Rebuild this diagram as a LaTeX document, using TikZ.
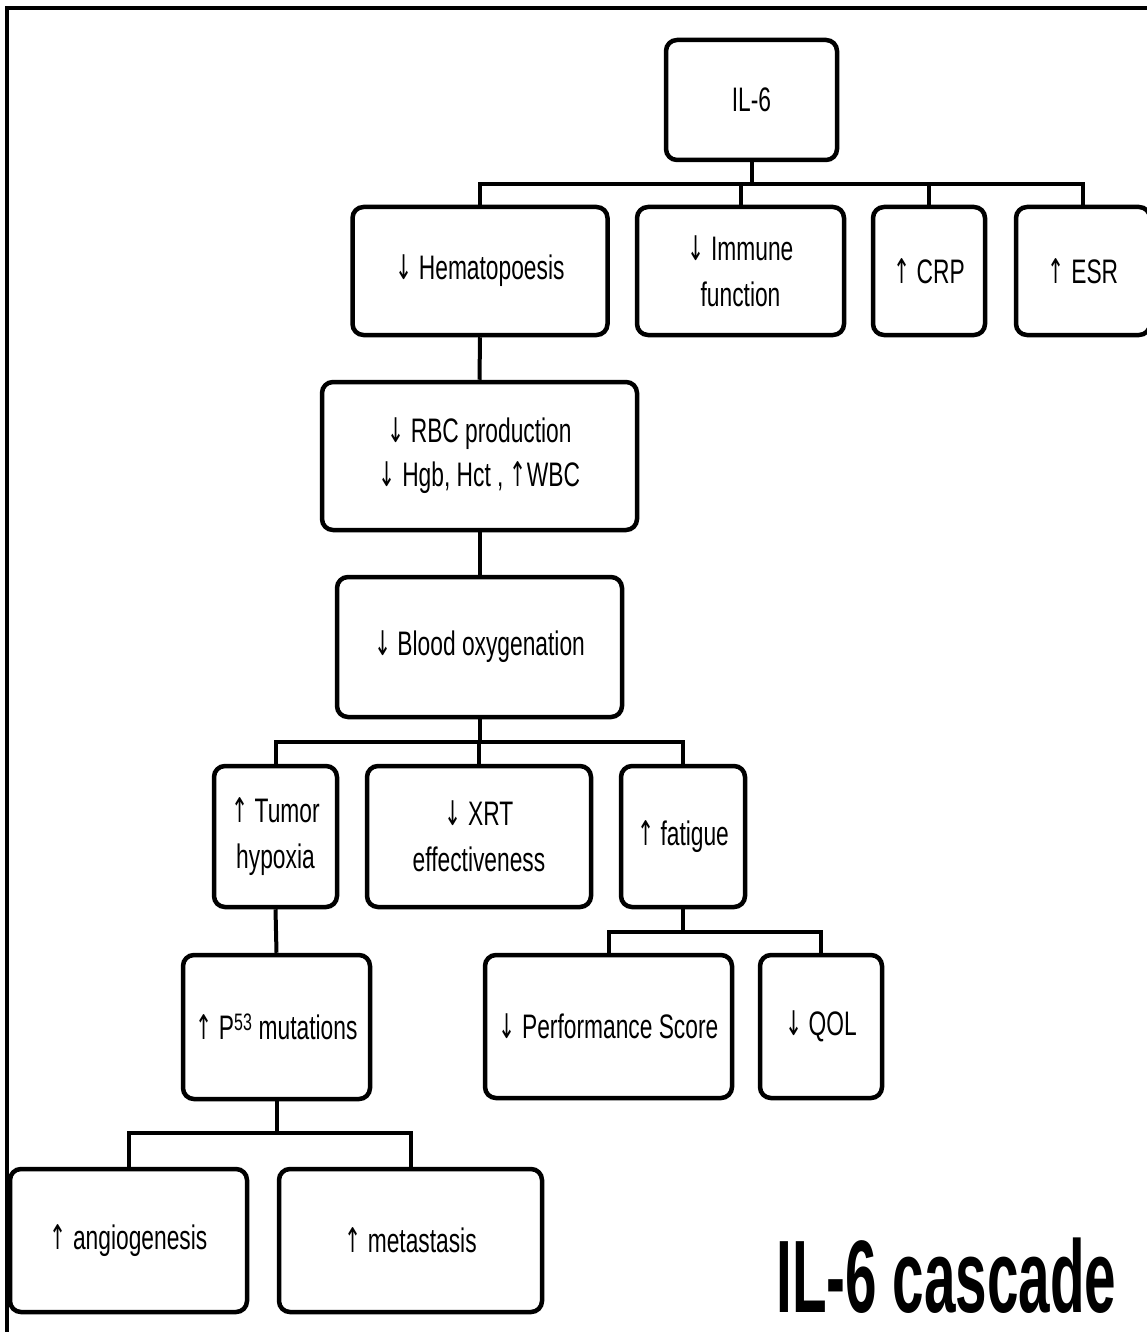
\documentclass[tikz,border=0pt]{standalone}
\usepackage{fontspec}
\setmainfont{Liberation Sans}[FakeStretch=0.67]
\newfontfamily\titlefont{Liberation Sans}[FakeStretch=0.55]
\newfontfamily\arrfont{DejaVu Sans}[FakeStretch=0.6]
\newcommand{\myup}{{\arrfont ↑}}
\newcommand{\mydn}{{\arrfont ↓}}
\begin{document}
\begin{tikzpicture}[x=1pt,y=-1pt,
  box/.style={draw, line width=4.5pt, rounded corners=11pt, align=center, inner sep=0pt,
    font=\fontsize{34}{46}\selectfont},
  conn/.style={line width=4pt}]
\useasboundingbox (0,0) rectangle (1146,1332);
\draw[line width=4pt] (7,1340) -- (7,8) -- (1150,8);
% row 0
\node[box, minimum width=171pt, minimum height=120pt] (il6) at (751.5,100) {IL-6};
% row 1
\node[box, minimum width=255pt, minimum height=128pt] (hema) at (480,271) {\mydn\ Hematopoesis};
\node[box, minimum width=207pt, minimum height=128pt] (immune) at (740.5,271) {\mydn\ Immune\\function};
\node[box, minimum width=112pt, minimum height=128pt] (crp) at (929,271) {\myup\ CRP};
\node[box, minimum width=134pt, minimum height=128pt] (esr) at (1083,271) {\myup\ ESR};
% row 2
\node[box, minimum width=315pt, minimum height=148pt, font=\fontsize{34}{44}\selectfont] (rbc) at (479.5,456) {\mydn\ RBC production\\\mydn\ Hgb, Hct , \myup WBC};
% row 3
\node[box, minimum width=285pt, minimum height=140pt] (blood) at (479.5,647) {\mydn\ Blood oxygenation};
% row 4
\node[box, minimum width=123pt, minimum height=141pt] (tumor) at (275.5,836.5) {\myup\ Tumor\\hypoxia};
\node[box, minimum width=224pt, minimum height=141pt] (xrt) at (479,836.5) {\mydn\ XRT\\effectiveness};
\node[box, minimum width=124pt, minimum height=141pt] (fatigue) at (683,836.5) {\myup\ fatigue};
% row 5
\node[box, minimum width=187pt, minimum height=144pt] (p53) at (276.5,1027) {\myup\ P\textsuperscript{53} mutations};
\node[box, minimum width=247pt, minimum height=143pt] (perf) at (608.5,1026.5) {\mydn\ Performance Score};
\node[box, minimum width=122pt, minimum height=143pt] (qol) at (821,1026.5) {\mydn\ QOL};
% row 6
\node[box, minimum width=237pt, minimum height=143pt] (angio) at (128.5,1240.5) {\myup\ angiogenesis};
\node[box, minimum width=263pt, minimum height=143pt] (meta) at (410.5,1240.5) {\myup\ metastasis};
% title
\node[anchor=base, inner sep=0pt, font=\titlefont\bfseries\fontsize{103}{110}\selectfont] (title) at (946.5,1312) {IL-6 cascade};
% connectors
\coordinate (b1) at (751.5,184);
\draw[conn] (il6.south) -- (b1);
\draw[conn] (hema.north) |- (b1) -| (esr.north);
\draw[conn] (immune.north) -- (immune.north |- b1);
\draw[conn] (crp.north) -- (crp.north |- b1);
\draw[conn] (hema.south) -- (rbc.north);
\draw[conn] (rbc.south) -- (blood.north);
\coordinate (b2) at (479.5,742);
\draw[conn] (blood.south) -- (b2);
\draw[conn] (tumor.north) |- (b2) -| (fatigue.north);
\draw[conn] (xrt.north) -- (xrt.north |- b2);
\draw[conn] (tumor.south) -- (p53.north);
\coordinate (b3) at (683,932);
\draw[conn] (fatigue.south) -- (b3);
\draw[conn] (perf.north) |- (b3) -| (qol.north);
\coordinate (b4) at (276.5,1133);
\draw[conn] (p53.south) -- (b4);
\draw[conn] (angio.north) |- (b4) -| (meta.north);
\end{tikzpicture}
\end{document}
